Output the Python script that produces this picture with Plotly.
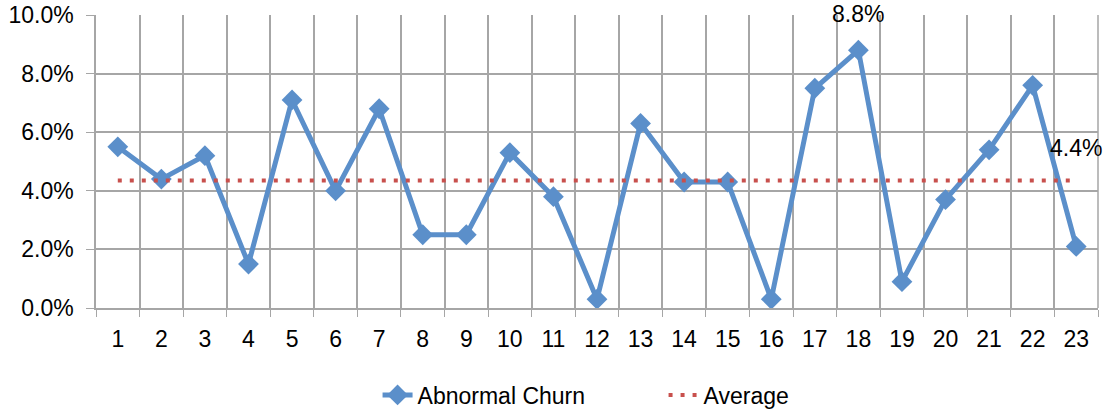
import plotly.graph_objects as go

categories = list(range(1, 24))
abnormal_churn = [5.5, 4.4, 5.2, 1.5, 7.1, 4.0, 6.8, 2.5, 2.5, 5.3, 3.8, 0.3, 6.3,
                  4.3, 4.3, 0.3, 7.5, 8.8, 0.9, 3.7, 5.4, 7.6, 2.1]
average = [4.35] * 23
average_label = "4.4%"
y_ticks = [0, 2, 4, 6, 8, 10]
y_tick_labels = ["0.0%", "2.0%", "4.0%", "6.0%", "8.0%", "10.0%"]

FONT = "Liberation Sans, Arial, sans-serif"
BLUE = "#5B8FCA"
RED = "#C8504D"
GRID = "#A6A6A6"
FS = 23

fig = go.Figure()
fig.add_trace(go.Scatter(
    x=categories, y=abnormal_churn, name="Abnormal Churn",
    mode="lines+markers",
    line=dict(color=BLUE, width=5),
    marker=dict(symbol="diamond", size=16, color=BLUE),
))
fig.add_trace(go.Scatter(
    x=categories, y=average, name="Average",
    mode="lines",
    line=dict(color=RED, width=4, dash="4px,8px"),
))

imax = abnormal_churn.index(max(abnormal_churn))
fig.add_annotation(x=categories[imax], y=abnormal_churn[imax], text="%.1f%%" % abnormal_churn[imax],
                   showarrow=False, yshift=36, font=dict(size=FS, color="#000", family=FONT))
fig.add_annotation(x=categories[-1], y=average[-1], text=average_label,
                   showarrow=False, yshift=33, font=dict(size=FS, color="#000", family=FONT))

fig.update_layout(
    width=1109, height=410,
    margin=dict(l=96, r=11, t=15, b=102, autoexpand=False),
    paper_bgcolor="white", plot_bgcolor="white",
    font=dict(family=FONT, size=FS, color="#000"),
    showlegend=True,
    legend=dict(orientation="h", x=0.281, xanchor="left", y=-0.297, yanchor="middle",
                font=dict(size=FS), entrywidth=241, tracegroupgap=0),
)
fig.update_xaxes(
    range=[0.5, 23.5], tickmode="array", tickvals=categories,
    ticktext=[str(c) for c in categories], showgrid=False,
    ticks="outside", ticklen=10, tickcolor="rgba(0,0,0,0)",
    showline=True, linecolor=GRID, linewidth=1.5, zeroline=False,
    automargin=False,
    minor=dict(tickmode="linear", tick0=0.5, dtick=1, showgrid=True, gridcolor=GRID,
               gridwidth=1.5, ticks="outside", ticklen=7, tickcolor=GRID),
    fixedrange=True,
)
fig.update_yaxes(
    range=[0, 10], tickmode="array", tickvals=y_ticks, ticktext=y_tick_labels,
    showgrid=True, gridcolor=GRID, gridwidth=1.5,
    ticks="outside", ticklen=8, tickcolor=GRID, ticklabelstandoff=8,
    showline=True, linecolor=GRID, linewidth=1.5, zeroline=False,
    automargin=False, fixedrange=True,
)
fig.add_shape(type="line", xref="paper", yref="paper", x0=1, x1=1, y0=0, y1=1,
              line=dict(color=GRID, width=1.5), layer="below")

fig.write_html("out.html", config={"displayModeBar": False},
               post_script="document.body.style.margin='0px';")
